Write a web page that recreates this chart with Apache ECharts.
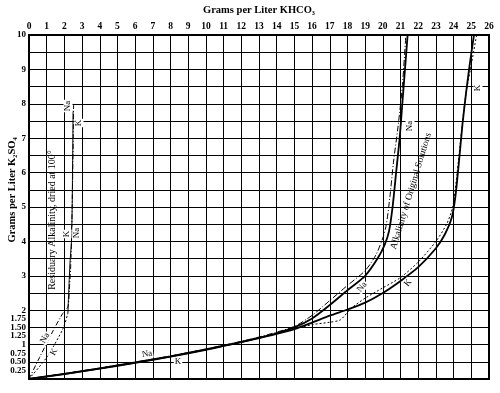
<!DOCTYPE html>
<html><head><meta charset="utf-8">
<script src="https://cdn.jsdelivr.net/npm/echarts@6/dist/echarts.min.js"></script>
<style>html,body{margin:0;padding:0;background:#fff}#c{width:500px;height:393px}</style>
</head><body><div id="c"></div>
<script>
// X ticks (g/L KHCO3) and Y tick labels (g/L K2SO4)
const xMin = 0, xMax = 26;
const yMin = 0, yMax = 10;
const yLabelMap = {'0.25':'0.25','0.5':'0.50','0.75':'0.75','1':'1','1.25':'1.25','1.5':'1.50','1.75':'1.75','2':'2','3':'3','4':'4','5':'5','6':'6','7':'7','8':'8','9':'9','10':'10'};

// Alkalinity of original solutions
const naOrigSolid = [[0,0],[2,0.15],[4,0.31],[6,0.48],[8,0.66],[10,0.86],[11,0.97],[12,1.08],[13,1.2],[14,1.33],[15,1.5],[16,1.76],[17,2.15],[18,2.58],[19,3.0],[19.7,3.5],[20.1,3.9],[20.35,4.3],[20.55,5.0],[20.75,6.0],[20.95,7.0],[21.1,8.0],[21.25,9.0],[21.4,10]];
const naOrigDash  = [[0,0],[4,0.32],[8,0.67],[11,0.98],[13,1.22],[15,1.53],[16,1.85],[17,2.28],[18,2.72],[19,3.15],[19.6,3.6],[20.0,4.1],[20.2,4.5],[20.4,5.3],[20.6,6.3],[20.85,7.3],[21.1,8.5],[21.3,10]];
const kOrigSolid  = [[0,0],[2,0.14],[4,0.3],[6,0.47],[8,0.65],[10,0.85],[11,0.96],[12,1.07],[13,1.19],[14,1.31],[15,1.45],[16,1.64],[17,1.84],[18,2.02],[19,2.22],[20,2.5],[21,2.85],[22,3.25],[23,3.8],[23.5,4.2],[23.9,4.7],[24.1,5.3],[24.3,6.3],[24.5,7.4],[24.7,8.3],[24.9,9.1],[25.15,10]];
const kOrigDash   = [[0,0],[4,0.3],[8,0.65],[11,0.96],[13,1.19],[15,1.45],[16,1.58],[17,1.65],[17.6,1.72],[18.2,2.05],[19,2.35],[20,2.65],[21,2.95],[22,3.4],[23,4.0],[23.6,4.5],[23.95,5.0],[24.2,6.0],[24.45,7.2],[24.7,8.3],[24.95,9.0],[25.3,10]];

// Residuary alkalinity, dried at 100°
const naResid = [[0,0],[0.6,0.63],[1.36,1.4],[1.9,1.9],[2.2,2.1],[2.28,2.6],[2.35,3.2],[2.4,4.0],[2.44,5.0],[2.47,6.0],[2.5,7.0],[2.52,8.0]];
const kResidLow = [[0,0],[1.0,0.63],[1.92,1.46],[2.2,1.92]];
const kResidUp  = [[2.2,1.92],[2.25,2.6],[2.32,3.4],[2.4,4.0],[2.44,5.0],[2.46,6.0],[2.48,7.0],[2.49,7.8]];

const serif = '"Liberation Serif","DejaVu Serif",serif';
const chart = echarts.init(document.getElementById('c'));
function line(data, w, type, z){
  return {type:'line', data:data, showSymbol:false, symbol:'none', smooth:0.25, z:z||3,
    lineStyle:{color:'#000', width:w, type:type}, silent:true, animation:false};
}
function txt(x,y,s,rotDeg,size,bold,bg){
  return {type:'text', x:x, y:y, rotation:(rotDeg||0)*Math.PI/180, z:10,
    style:{text:s, font:(bold?'bold ':'')+(size||9)+'px '+serif, fill:'#000', textAlign:'center', textVerticalAlign:'middle',
      backgroundColor:bg===false?'transparent':'#fff', padding:[0,1]}};
}
chart.setOption({
  animation:false,
  grid:{left:29, right:11, top:30, bottom:14, show:true, borderColor:'#000', borderWidth:2, backgroundColor:'#fff'},
  xAxis:{type:'value', min:xMin, max:xMax, interval:1, position:'top',
    name:'Grams per Liter KHCO₃', nameLocation:'middle', nameGap:19,
    nameTextStyle:{fontFamily:serif, fontWeight:'bold', fontSize:10.5, color:'#000'},
    axisLine:{show:true, lineStyle:{color:'#000', width:2}}, axisTick:{show:false},
    axisLabel:{fontFamily:serif, fontWeight:'bold', fontSize:9.5, color:'#000', margin:3},
    splitLine:{show:true, lineStyle:{color:'#000', width:1}}},
  yAxis:[
    {type:'value', min:yMin, max:yMax, interval:0.25, position:'left',
     axisLine:{show:true, lineStyle:{color:'#000', width:2}}, axisTick:{show:false},
     axisLabel:{fontFamily:serif, fontWeight:'bold', fontSize:9, color:'#000', margin:3, lineHeight:9,
       formatter:function(v){const k=String(+v.toFixed(2)); return yLabelMap[k]||'';}},
     splitLine:{show:false}},
    {type:'value', min:yMin, max:yMax, interval:0.5, position:'left',
     axisLine:{show:false}, axisTick:{show:false}, axisLabel:{show:false},
     splitLine:{show:true, lineStyle:{color:'#000', width:1}}}
  ],
  series:[
    line(naOrigSolid, 1.8, 'solid', 4),
    line(naOrigDash, 1, [6,2,1,2], 3),
    line(kOrigSolid, 1.8, 'solid', 4),
    line(kOrigDash, 1, [2,2], 3),
    line(naResid, 1, [5,2,1,2], 3),
    line(kResidLow, 1, [2,2], 3),
    line(kResidUp, 1, 'solid', 3)
  ],
  graphic:[
    txt(12,190,'Grams per Liter K₂SO₄',90,10.5,true,false),
    txt(411,191,'Alkalinity of Original Solutions',73,9.5,false,false),
    txt(52,220,'Residuary Alkalinity, dried at 100°',90,10,false,false),
    txt(68,106,'Na',90,9), txt(79,123,'K',90,9),
    txt(67,234,'K',90,9), txt(77,233,'Na',90,9),
    txt(410,126,'Na',90,9), txt(478,88,'K',90,9),
    txt(362,287,'Na',50,9), txt(408,283,'K',50,9),
    txt(45,338,'Na',62,9), txt(54,352,'K',62,9),
    txt(147,354,'Na',8,9), txt(178,362,'K',0,9)
  ]
});
</script></body></html>
